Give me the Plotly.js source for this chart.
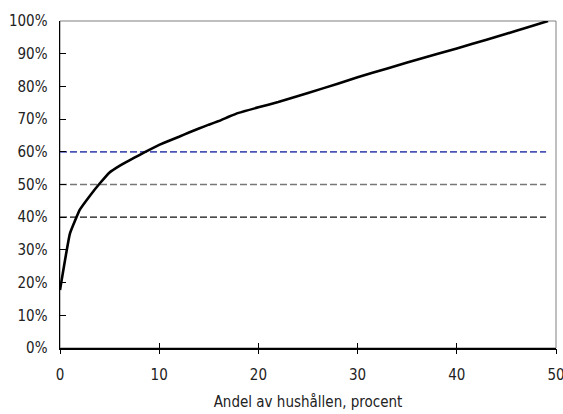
<!DOCTYPE html>
<html>
<head>
<meta charset="utf-8">
<script src="https://cdn.plot.ly/plotly-3.0.1.min.js"></script>
<style>
html,body{margin:0;padding:0;background:#fff;}
#chart{width:563px;height:414px;}
#chart text{font-stretch:condensed !important;}
</style>
</head>
<body>
<div id="chart"></div>
<script>
// Share of households (%) vs cumulative share (%)
const householdShare = [0, 1, 2, 3, 4, 5, 6, 7, 8, 9, 10, 11, 12, 13, 14, 15, 16, 17, 18, 20, 22, 25, 28, 30, 33, 35, 38, 40, 43, 45, 47, 49.2];
const cumulativeShare = [17.7, 35, 42.3, 46.5, 50.3, 53.7, 55.7, 57.4, 59.0, 60.6, 62.1, 63.4, 64.6, 65.9, 67.1, 68.3, 69.4, 70.7, 71.9, 73.6, 75.2, 78, 80.8, 82.8, 85.5, 87.3, 89.9, 91.6, 94.3, 96.1, 97.9, 100];
const refLevels = [60, 50, 40];
const refColors = ['#4a55b5', '#777777', '#111111'];
const refWidths = [1.8, 1.6, 1.2];
const refStartEnd = [0, 49];
const xTicks = [0, 10, 20, 30, 40, 50];
const yTicks = [0, 10, 20, 30, 40, 50, 60, 70, 80, 90, 100];
const yTickText = yTicks.map(v => v + '%');
const xTitle = 'Andel av hushållen, procent';

const font = 'DejaVu Sans Condensed, DejaVu Sans, sans-serif';

const traces = refLevels.map((lvl, i) => ({
  x: refStartEnd, y: [lvl, lvl], mode: 'lines', type: 'scatter',
  line: {color: refColors[i], width: refWidths[i], dash: '7px,3px'},
  hoverinfo: 'skip', showlegend: false
}));
traces.push({
  x: householdShare, y: cumulativeShare, mode: 'lines', type: 'scatter',
  line: {color: '#000000', width: 2.6, shape: 'spline', smoothing: 0.3}, showlegend: false
});
// helper trace for outer tick marks
traces.push({x: [0], y: [0], xaxis: 'x2', yaxis: 'y', mode: 'none', showlegend: false, hoverinfo: 'skip'});

const layout = {
  width: 563, height: 414,
  margin: {l: 60, r: 7, t: 21, b: 66},
  paper_bgcolor: '#ffffff', plot_bgcolor: '#ffffff',
  font: {family: font, size: 15, color: '#222222'},
  showlegend: false,
  xaxis: {
    range: [0, 50], tickvals: xTicks, ticktext: xTicks.map(String),
    ticks: 'inside', ticklen: 5, tickwidth: 1, tickcolor: '#000',
    showline: true, linecolor: '#000', linewidth: 1.5,
    showgrid: false, zeroline: false,
    ticklabelstandoff: 12, ticklabeloverflow: 'allow',
    title: {text: xTitle, font: {family: font, size: 15, color: '#222'}, standoff: 14}
  },
  xaxis2: {
    range: [0, 50], tickvals: xTicks, overlaying: 'x', anchor: 'y', side: 'bottom',
    ticks: 'outside', ticklen: 5, tickwidth: 1, tickcolor: '#000',
    showticklabels: false, showgrid: false, zeroline: false, showline: false
  },
  yaxis: {
    range: [0, 100], tickvals: yTicks, ticktext: yTickText,
    ticks: 'inside', ticklen: 6, tickwidth: 1, tickcolor: '#000',
    showline: true, linecolor: '#000', linewidth: 1.5,
    showgrid: false, zeroline: false,
    ticklabelstandoff: 8
  },
  shapes: [
    {type: 'rect', xref: 'paper', yref: 'paper', x0: 0, x1: 1, y0: 0, y1: 1,
     line: {color: '#808080', width: 1}, layer: 'below'}
  ]
};

Plotly.newPlot('chart', traces, layout, {displayModeBar: false, staticPlot: true});
</script>
</body>
</html>
